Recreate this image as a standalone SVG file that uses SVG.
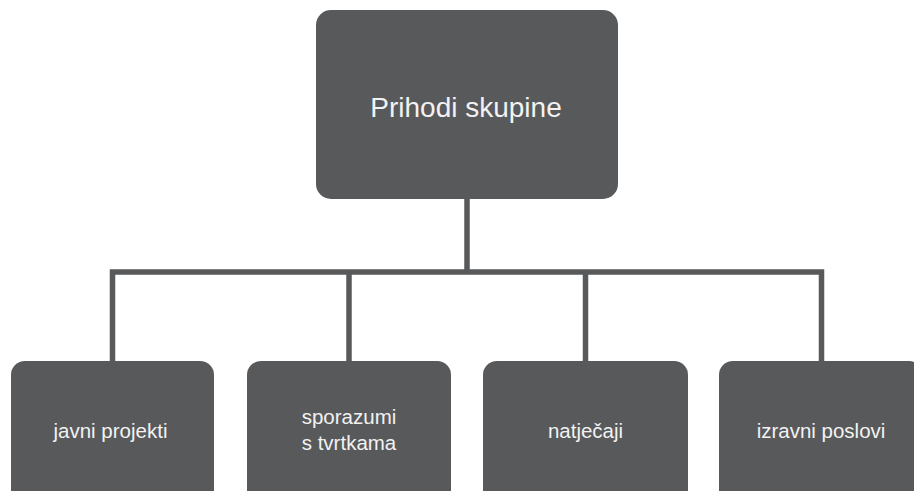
<svg xmlns="http://www.w3.org/2000/svg" width="914" height="491" viewBox="0 0 914 491">
<style>
.box{fill:#58595b;}
.t{fill:#f2f2f2;font-family:"Liberation Sans",Arial,sans-serif;text-anchor:middle;}
.big{font-size:28px;}
.sm{font-size:20.5px;}
.c{stroke:#58595b;stroke-width:5.5;fill:none;stroke-linecap:butt;stroke-linejoin:miter;}
</style>
<rect width="914" height="491" fill="#ffffff"/>
<g id="connectors">
<path class="c" d="M467 199 V272"/>
<path class="c" d="M112.5 362 V272 H821.5 V362"/>
<path class="c" d="M349 272 V362"/>
<path class="c" d="M585.5 272 V362"/>
</g>
<g id="root">
<rect class="box" x="316" y="10" width="302" height="189" rx="15"/>
<text class="t big" x="466" y="117">Prihodi skupine</text>
</g>
<g id="javni">
<rect class="box" x="11" y="361" width="203" height="150" rx="14"/>
<text class="t sm" x="110.5" y="438">javni projekti</text>
</g>
<g id="sporazumi">
<rect class="box" x="247" y="361" width="204" height="150" rx="14"/>
<text class="t sm" x="349" y="424">sporazumi</text>
<text class="t sm" x="349" y="450">s tvrtkama</text>
</g>
<g id="natjecaji">
<rect class="box" x="483" y="361" width="205" height="150" rx="14"/>
<text class="t sm" x="585.5" y="438">natječaji</text>
</g>
<g id="izravni">
<rect class="box" x="719" y="361" width="204" height="150" rx="14"/>
<text class="t sm" x="821" y="438">izravni poslovi</text>
</g>
</svg>
